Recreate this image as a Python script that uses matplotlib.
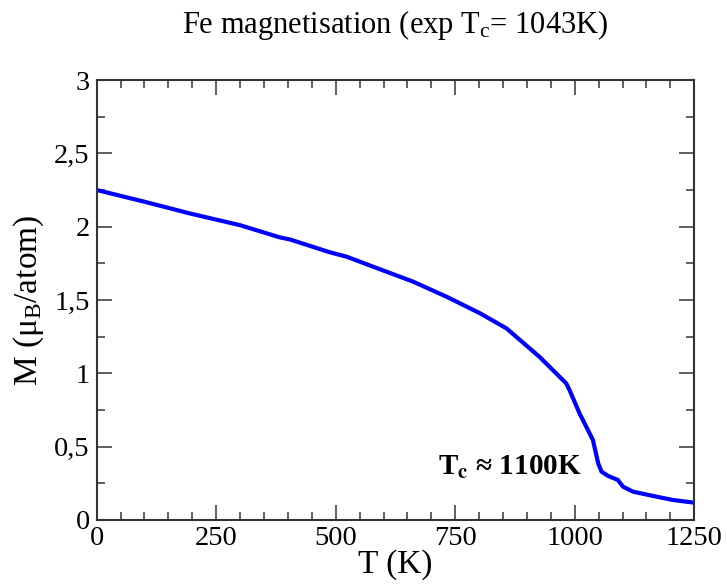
import matplotlib.pyplot as plt
from matplotlib.ticker import MultipleLocator, FuncFormatter

# magnetisation curve
temperature = [0, 100, 195, 300, 383, 404, 488, 523, 593, 662, 732, 802, 857,
               926, 982, 989, 1010, 1038, 1049, 1056, 1070, 1090, 1101, 1122,
               1171, 1206, 1250]
magnetisation = [2.25, 2.17, 2.09, 2.01, 1.927, 1.913, 1.825, 1.795, 1.709,
                 1.625, 1.522, 1.409, 1.307, 1.113, 0.932, 0.886, 0.727, 0.545,
                 0.386, 0.329, 0.30, 0.273, 0.227, 0.193, 0.159, 0.136, 0.118]

plt.rcParams['font.family'] = ['Liberation Serif', 'DejaVu Serif']
plt.rcParams['mathtext.fontset'] = 'stix'

fig = plt.figure(figsize=(7.27, 5.84), dpi=100)
ax = fig.add_axes([0.133, 0.1096, 0.822, 0.7534])

ax.plot(temperature, magnetisation, color='#0000ff', lw=3)

ax.set_xlim(0, 1250)
ax.set_ylim(0, 3)
ax.xaxis.set_major_locator(MultipleLocator(250))
ax.xaxis.set_minor_locator(MultipleLocator(50))
ax.yaxis.set_major_locator(MultipleLocator(0.5))
ax.yaxis.set_minor_locator(MultipleLocator(0.25))


def comma(v, pos):
    return ('%g' % v).replace('.', ',')


ax.yaxis.set_major_formatter(FuncFormatter(comma))
ax.tick_params(which='both', direction='in', top=True, right=True,
               labelsize=20.5, color='#444444', width=1.2)
ax.tick_params(which='major', length=11, pad=4)
ax.tick_params(axis='y', which='major', pad=5)
ax.tick_params(which='minor', length=5.5)
for s in ax.spines.values():
    s.set_linewidth(1.5)
    s.set_color('#333333')

ax.set_xlabel('T (K)', fontsize=24, labelpad=-1)
ax.set_ylabel(r'M ($\mathregular{\mu_B}$/atom)', fontsize=24, labelpad=6)
ax.set_title(r'Fe magnetisation (exp T$\mathregular{_c}$= 1043K)', fontsize=22,
             pad=34)

ax.text(714, 0.31, r'T$\mathbf{_c}$ ≈ 1100K', fontsize=21,
        fontweight='bold', ha='left', va='baseline')

fig.savefig('out.png', dpi=100)
